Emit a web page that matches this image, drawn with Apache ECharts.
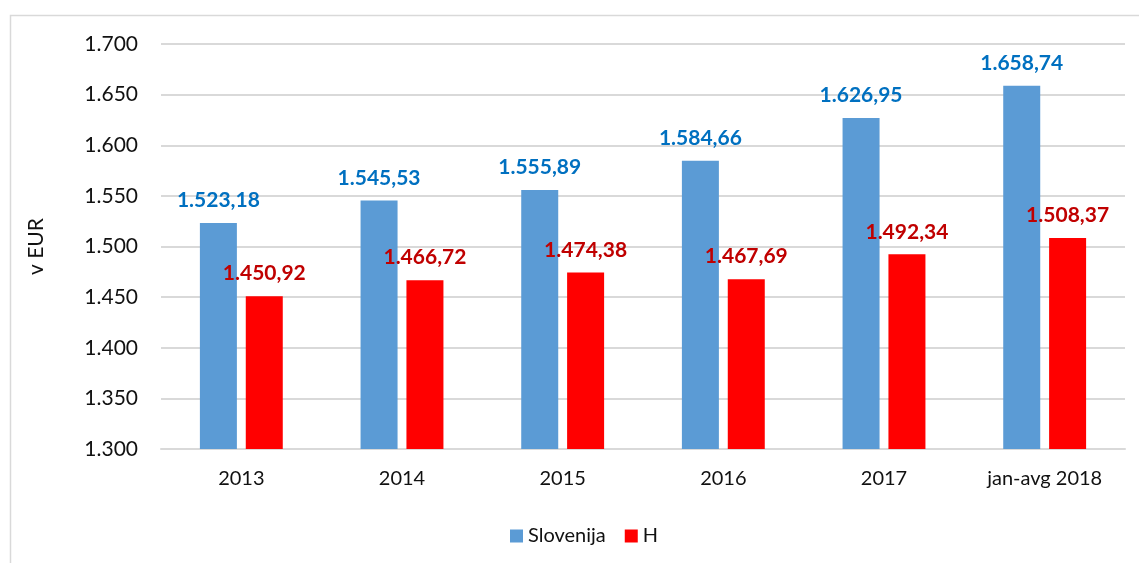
<!DOCTYPE html>
<html>
<head>
<meta charset="utf-8">
<script src="https://cdn.jsdelivr.net/npm/echarts@6/dist/echarts.min.js"></script>
<style>
  html, body { margin: 0; padding: 0; background: #fff; }
  #main { width: 1139px; height: 563px; }
</style>
</head>
<body>
<div id="main"></div>
<script>
// podatki
var categories = ['2013', '2014', '2015', '2016', '2017', 'jan-avg 2018'];
var slovenija = [1523.18, 1545.53, 1555.89, 1584.66, 1626.95, 1658.74];
var hValues = [1450.92, 1466.72, 1474.38, 1467.69, 1492.34, 1508.37];
var yTicks = { min: 1300, max: 1700, interval: 50 };

var FONT = 'Lato';

// 1.523,18 / 1.700
function fmt(v, dec) {
    var parts = v.toFixed(dec).split('.');
    var intPart = parts[0].replace(/\B(?=(\d{3})+(?!\d))/g, '.');
    return dec ? intPart + ',' + parts[1] : intPart;
}

var chart = echarts.init(document.getElementById('main'));
var option = {
    backgroundColor: '#fff',
    animation: false,
    graphic: [{
        type: 'rect',
        shape: { x: 10.5, y: 15.5, width: 1200, height: 600 },
        style: { fill: 'none', stroke: '#D9D9D9', lineWidth: 1.5 },
        silent: true
    }],
    grid: { left: 161, right: 14, top: 44, bottom: 114 },
    legend: {
        data: ['Slovenija', 'H'],
        left: 505,
        top: 521,
        itemWidth: 13,
        itemHeight: 13,
        itemGap: 19,
        icon: 'rect',
        textStyle: { fontFamily: FONT, fontSize: 20, color: '#111' }
    },
    xAxis: {
        type: 'category',
        data: categories,
        axisTick: { show: false },
        axisLine: { lineStyle: { color: '#D9D9D9', width: 2 } },
        axisLabel: { fontFamily: FONT, fontSize: 20, color: '#111', margin: 20 }
    },
    yAxis: {
        type: 'value',
        min: yTicks.min,
        max: yTicks.max,
        interval: yTicks.interval,
        name: 'v EUR',
        nameLocation: 'middle',
        nameGap: 114,
        nameTextStyle: { fontFamily: FONT, fontSize: 21, color: '#111' },
        axisLine: { show: false },
        axisTick: { show: false },
        splitLine: { lineStyle: { color: '#D9D9D9', width: 2 } },
        axisLabel: {
            fontFamily: FONT, fontSize: 21, color: '#111', margin: 23,
            formatter: function (v) { return fmt(v, 0); }
        }
    },
    series: [
        {
            name: 'Slovenija',
            type: 'bar',
            data: slovenija,
            barWidth: 37,
            barGap: '24%',
            itemStyle: { color: '#5B9BD5' },
            label: {
                show: true,
                position: 'top',
                distance: 12,
                fontFamily: FONT,
                fontSize: 21,
                fontWeight: 'bold',
                color: '#0070C0',
                formatter: function (p) { return fmt(p.value, 2); }
            }
        },
        {
            name: 'H',
            type: 'bar',
            data: hValues,
            barWidth: 37,
            itemStyle: { color: '#FF0000' },
            label: {
                show: true,
                position: 'top',
                distance: 12,
                fontFamily: FONT,
                fontSize: 21,
                fontWeight: 'bold',
                color: '#C00000',
                formatter: function (p) { return fmt(p.value, 2); }
            }
        }
    ]
};
chart.setOption(option);
</script>
</body>
</html>
